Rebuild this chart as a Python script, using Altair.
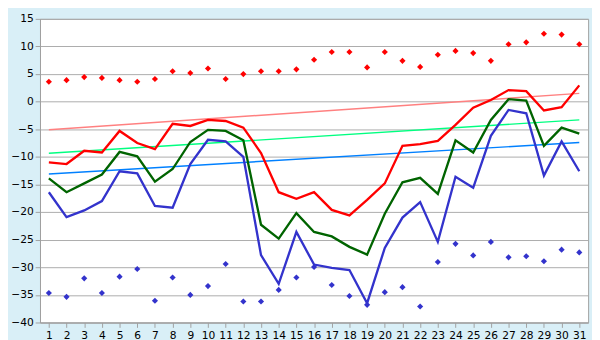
import altair as alt
import pandas as pd

days = list(range(1, 32))
tmax = [-11.0, -11.3, -8.9, -9.2, -5.3, -7.5, -8.6, -4.0, -4.4, -3.3, -3.5, -4.7, -9.3,
        -16.4, -17.6, -16.4, -19.6, -20.6, -17.8, -14.8, -8.0, -7.7, -7.1, -4.2, -1.1,
        0.3, 2.1, 1.9, -1.6, -1.0, 2.95]
tmean = [-13.9, -16.4, -14.8, -13.2, -9.1, -9.9, -14.5, -12.2, -7.3, -5.1, -5.3, -7.0,
         -22.3, -24.8, -20.2, -23.6, -24.4, -26.3, -27.7, -20.3, -14.6, -13.8, -16.7,
         -7.0, -9.2, -3.3, 0.45, 0.2, -8.0, -4.7, -5.8]
tmin = [-16.4, -20.9, -19.7, -18.0, -12.6, -13.0, -18.9, -19.2, -11.3, -6.9, -7.2, -10.0,
        -27.8, -33.0, -23.6, -29.5, -30.1, -30.5, -36.5, -26.5, -21.0, -18.2, -25.4,
        -13.6, -15.6, -6.2, -1.5, -2.1, -13.4, -7.2, -12.6]
rec_max = [3.6, 3.9, 4.45, 4.3, 3.9, 3.6, 4.1, 5.5, 5.2, 6.0, 4.1, 5.0, 5.5, 5.5, 5.85,
           7.6, 9.0, 9.0, 6.2, 9.0, 7.4, 6.3, 8.5, 9.2, 8.8, 7.4, 10.4, 10.75, 12.3,
           12.15, 10.4]
rec_min = [-34.65, -35.35, -32.0, -34.65, -31.7, -30.3, -36.05, -31.85, -35.0, -33.4,
           -29.4, -36.2, -36.2, -34.1, -31.85, -29.95, -33.2, -35.2, -36.8, -34.5,
           -33.6, -37.1, -29.05, -25.75, -27.85, -25.4, -28.2, -28.0, -28.9, -26.8,
           -27.3]
trend_days = [1, 31]
trend_max = [-5.1, 1.5]
trend_mean = [-9.35, -3.3]
trend_min = [-13.1, -7.4]

df = pd.DataFrame({"day": days, "tmax": tmax, "tmean": tmean, "tmin": tmin,
                   "rmax": rec_max, "rmin": rec_min})
tr = pd.DataFrame({"day": trend_days, "tmax": trend_max, "tmean": trend_mean,
                   "tmin": trend_min})

xs = alt.Scale(domain=[0.5, 31.5], nice=False, zero=False)
ys = alt.Scale(domain=[-40, 15], nice=False, zero=False)

xax = alt.Axis(values=days, format="d", title=None, grid=False, labelFlush=False)
yax = alt.Axis(values=list(range(-40, 16, 5)), title=None, grid=True)


def X():
    return alt.X("day:Q", scale=xs, axis=xax)


def line(data, field, color, width):
    return alt.Chart(data).mark_line(color=color, strokeWidth=width, clip=True).encode(
        x=X(), y=alt.Y(f"{field}:Q", scale=ys, axis=yax))


def pts(field, color):
    return alt.Chart(df).mark_point(shape="diamond", filled=True, opacity=1,
                                    color=color, size=40).encode(
        x=X(), y=alt.Y(f"{field}:Q", scale=ys, axis=yax))


chart = alt.layer(
    line(tr, "tmax", "#FF8080", 1.5),
    line(tr, "tmean", "#00FF80", 1.5),
    line(tr, "tmin", "#0080FF", 1.5),
    line(df, "tmax", "#FF0000", 2.4),
    line(df, "tmean", "#006400", 2.4),
    line(df, "tmin", "#3333CC", 2.4),
    pts("rmax", "#FF0000"),
    pts("rmin", "#3333CC"),
).properties(
    width=565, height=313,
    padding={"left": 2, "top": 0, "right": 4, "bottom": 0},
    background="#D9EFF7",
).configure_view(
    fill="white", stroke="#A0A0A0", strokeWidth=1
).configure_axis(
    labelFont="DejaVu Sans", labelFontSize=11, labelColor="black",
    tickColor="#A0A0A0", domainColor="#A0A0A0", gridColor="#AAAAAA",
    tickSize=5, labelPadding=2, gridWidth=1,
)

chart.save("out.html", embed_options={"renderer": "svg", "actions": False})
